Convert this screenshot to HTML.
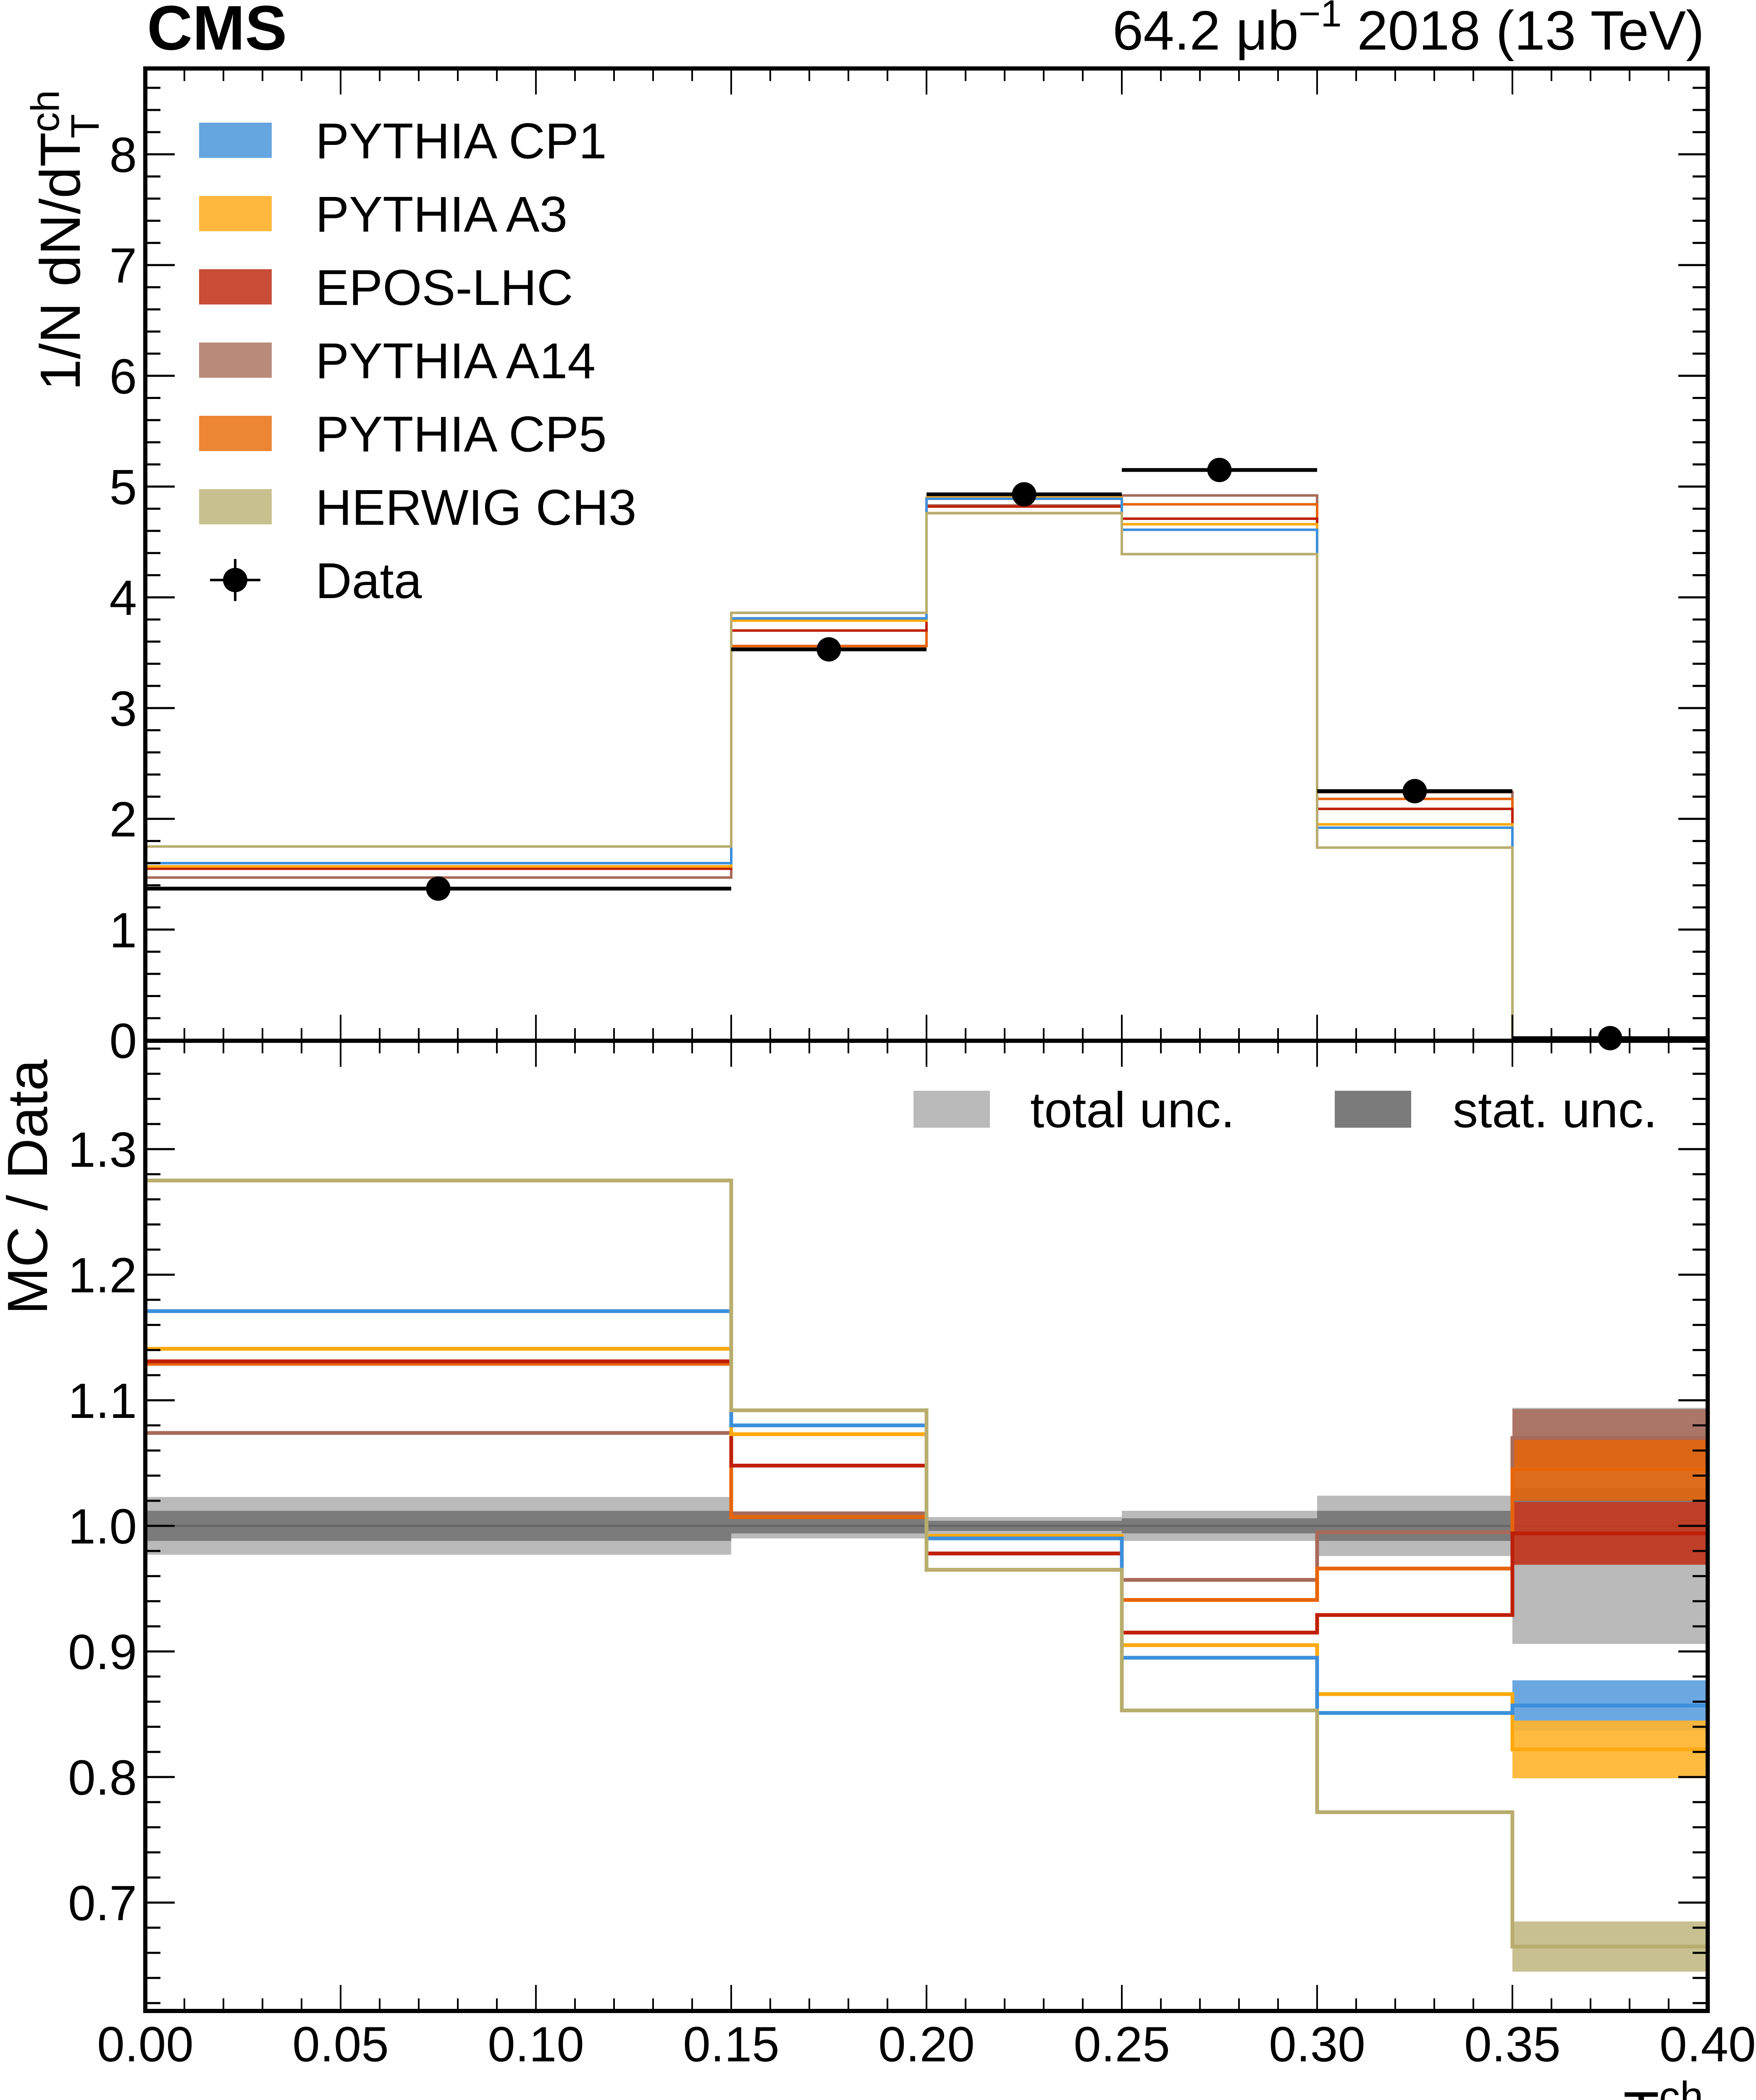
<!DOCTYPE html>
<html><head><meta charset="utf-8"><style>
html,body{margin:0;padding:0;background:#fff;overflow:hidden;width:4181px;height:5125px;}
svg{display:block;font-family:"Liberation Sans",sans-serif;}
</style></head><body>
<svg id="chart" width="4181" height="5125" viewBox="0 0 4181 5125" xmlns="http://www.w3.org/2000/svg">
<g id="layer-bands"></g>
<g id="layer-lines"></g>
<g id="layer-axes"></g>
<text x="350" y="118" font-size="150" font-weight="bold">CMS</text>
<text x="4058" y="118" font-size="132" text-anchor="end">64.2 μb<tspan dy="-55" font-size="90">−1</tspan><tspan dy="55"> 2018 (13 TeV)</tspan></text>
<text transform="translate(190,930) rotate(-90)" font-size="135">1/N dN/dT<tspan dy="-50" font-size="95">ch</tspan><tspan dx="-115" dy="95" font-size="95">T</tspan></text>
<text transform="translate(112,3130) rotate(-90)" font-size="135">MC / Data</text>
<text x="3865" y="5078" font-size="140">T</text>
<text x="3950" y="5026" font-size="100">ch</text>
<text x="3958" y="5088" font-size="85">T</text>
<g id="legend"></g>
</svg>
<script>
const binEdges = [0, 0.15, 0.2, 0.25, 0.3, 0.35, 0.4];
const seriesNames = ["PYTHIA CP1","PYTHIA A3","EPOS-LHC","PYTHIA A14","PYTHIA CP5","HERWIG CH3"];
const dataValues = [1.37, 3.53, 4.93, 5.15, 2.25, 0.02];
const cp1Values = [1.60, 3.81, 4.89, 4.61, 1.92, 0.02];
const a3Values  = [1.57, 3.79, 4.90, 4.66, 1.95, 0.02];
const eposValues= [1.55, 3.70, 4.82, 4.71, 2.09, 0.02];
const a14Values = [1.47, 3.56, 4.83, 4.92, 2.24, 0.02];
const cp5Values = [1.55, 3.56, 4.76, 4.84, 2.18, 0.02];
const ch3Values = [1.75, 3.86, 4.76, 4.39, 1.74, 0.02];
const cp1Ratio  = [1.171, 1.080, 0.990, 0.895, 0.851, 0.857];
const a3Ratio   = [1.141, 1.073, 0.992, 0.905, 0.866, 0.822];
const eposRatio = [1.131, 1.048, 0.978, 0.915, 0.929, 0.994];
const a14Ratio  = [1.074, 1.010, 0.978, 0.957, 0.995, 1.070];
const cp5Ratio  = [1.129, 1.007, 0.965, 0.941, 0.966, 1.045];
const ch3Ratio  = [1.275, 1.092, 0.965, 0.853, 0.772, 0.665];
const lastBinBandHalf = [0.020, 0.023, 0.025, 0.023, 0.025, 0.020];
const totalUncHalf = [0.023, 0.010, 0.007, 0.012, 0.024, 0.094];
const statUncHalf  = [0.012, 0.006, 0.004, 0.006, 0.012, 0.030];
const topYTicks = ["0","1","2","3","4","5","6","7","8"];
const ratioYTicks = ["0.7","0.8","0.9","1.0","1.1","1.2","1.3"];
const xTicks = ["0.00","0.05","0.10","0.15","0.20","0.25","0.30","0.35","0.40"];

const NS="http://www.w3.org/2000/svg";
const L=346,R=4066,T=163,M=2478,B=4788;
const X=v=>L+(v-0)/(0.4)*(R-L);
const Yt=v=>2477-v*263.7;
const Yr=v=>3633-(v-1)*2990;
const lineCols=["#3d8fdb","#ffa90f","#bf1f06","#a86a5a","#e8640a","#b8ad6e"];
const bandCols=["#5ea1e0","#ffb530","#c43a22","#a9705f","#e0650f","#c4bb88"];
const legCols=["#66a6e0","#ffb83d","#c84c37","#b98a7a","#ec8534","#c8c08e"];
const tops=[cp1Values,a3Values,eposValues,a14Values,cp5Values,ch3Values];
const ratios=[cp1Ratio,a3Ratio,eposRatio,a14Ratio,cp5Ratio,ch3Ratio];
function mk(tag,attrs,parent){const e=document.createElementNS(NS,tag);for(const k in attrs)e.setAttribute(k,attrs[k]);parent.appendChild(e);return e;}
const gB=document.getElementById('layer-bands'),gL=document.getElementById('layer-lines'),gA=document.getElementById('layer-axes'),gLeg=document.getElementById('legend');
function stepPath(vals,Y){let d="";for(let i=0;i<vals.length;i++){const x0=X(binEdges[i]),x1=X(binEdges[i+1]),y=Y(vals[i]);d+=(i==0?"M":"L")+x0+" "+y+"L"+x1+" "+y;}return d;}
for(let i=0;i<dataValues.length;i++){
  const x0=X(binEdges[i]),x1=X(binEdges[i+1]);
  const t=mk('rect',{x:x0,y:Yr(1+totalUncHalf[i]),width:x1-x0,height:Yr(1-totalUncHalf[i])-Yr(1+totalUncHalf[i]),fill:"#bababa"},gB);
  
  
  const s=mk('rect',{x:x0,y:Yr(1+statUncHalf[i]),width:x1-x0,height:Yr(1-statUncHalf[i])-Yr(1+statUncHalf[i]),fill:"#7b7b7b"},gB);
  
  
  const c=mk('line',{x1:x0,x2:x1,y1:Yr(1),y2:Yr(1),stroke:"#666",'stroke-width':5},gB);
  
  
}
const last=binEdges.length-2;
[3,4,2,5,0,1].forEach(k=>{
  const v=ratios[k][last],h=lastBinBandHalf[k];
  const r=mk('rect',{x:X(binEdges[last]),y:Yr(v+h),width:X(binEdges[last+1])-X(binEdges[last]),height:Yr(v-h)-Yr(v+h),fill:bandCols[k],opacity:0.92},gB);
  
  
});
[3,4,2,1,0,5].forEach(k=>{
  const p=mk('path',{d:stepPath(tops[k],Yt),fill:"none",stroke:lineCols[k],'stroke-width':6},gL);
  
  
  const q=mk('path',{d:stepPath(ratios[k],Yr),fill:"none",stroke:lineCols[k],'stroke-width':9},gL);
  
  
});
for(let i=0;i<dataValues.length;i++){
  const x0=X(binEdges[i]),x1=X(binEdges[i+1]),y=Yt(dataValues[i]);
  const h=mk('line',{x1:x0,x2:x1,y1:y,y2:y,stroke:"#000",'stroke-width':9},gL);
  
  
  const c=mk('circle',{cx:(x0+x1)/2,cy:y,r:29,fill:"#000"},gL);
  
  
}
[[T,M],[M,B]].forEach(([y0,y1],pi)=>{
  const f=mk('rect',{x:L,y:y0,width:R-L,height:y1-y0,fill:"none",stroke:"#000",'stroke-width':10},gA);
  
  
  for(let k=0;k<=40;k++){
    const x=X(k*0.01),len=(k%5==0)?62:30;
    mk('line',{x1:x,x2:x,y1:y0,y2:y0+len,stroke:"#000",'stroke-width':4},gA);
    mk('line',{x1:x,x2:x,y1:y1,y2:y1-len,stroke:"#000",'stroke-width':4},gA);
  }
});
for(let k=0;k<=43;k++){const v=k*0.2,y=Yt(v);if(y<T)break;const len=(k%5==0)?70:36;
  mk('line',{x1:L,x2:L+len,y1:y,y2:y,stroke:"#000",'stroke-width':5},gA);
  mk('line',{x1:R,x2:R-len,y1:y,y2:y,stroke:"#000",'stroke-width':5},gA);}
for(let k=30;k<=70;k++){const v=k*0.02,y=Yr(v);if(y<M||y>B)continue;const len=(k%5==0)?70:36;
  mk('line',{x1:L,x2:L+len,y1:y,y2:y,stroke:"#000",'stroke-width':5},gA);
  mk('line',{x1:R,x2:R-len,y1:y,y2:y,stroke:"#000",'stroke-width':5},gA);}
topYTicks.forEach(s=>{const t=mk('text',{x:326,y:Yt(parseFloat(s))+42,'font-size':118,'text-anchor':'end'},gA);t.textContent=s;
  
  });
ratioYTicks.forEach(s=>{const t=mk('text',{x:326,y:Yr(parseFloat(s))+42,'font-size':118,'text-anchor':'end'},gA);t.textContent=s;
  
  });
xTicks.forEach(s=>{const t=mk('text',{x:X(parseFloat(s)),y:4908,'font-size':118,'text-anchor':'middle'},gA);t.textContent=s;
  
  });
seriesNames.forEach((n,i)=>{const cy=334+i*174.5;
  const r=mk('rect',{x:474,y:cy-42,width:173,height:84,fill:legCols[i]},gLeg);
  
  
  const t=mk('text',{x:751,y:cy+43,'font-size':120},gLeg);t.textContent=n;
  
  });
{const cy=334+6*174.5;
 mk('line',{x1:500,x2:620,y1:cy,y2:cy,stroke:"#000",'stroke-width':6},gLeg);
 mk('line',{x1:560,x2:560,y1:cy-50,y2:cy+50,stroke:"#000",'stroke-width':6},gLeg);
 const c=mk('circle',{cx:560,cy:cy,r:29,fill:"#000"},gLeg);
 
 
 const t=mk('text',{x:751,y:cy+43,'font-size':120},gLeg);t.textContent="Data";
 
 }
[["total unc.","#bababa",2175,2453],["stat. unc.","#7b7b7b",3178,3459]].forEach(([n,c,x,tx])=>{
  const r=mk('rect',{x:x,y:2597,width:182,height:88,fill:c},gLeg);
  
  
  const t=mk('text',{x:tx,y:2684,'font-size':120},gLeg);t.textContent=n;
  
  });
</script>
</body></html>
